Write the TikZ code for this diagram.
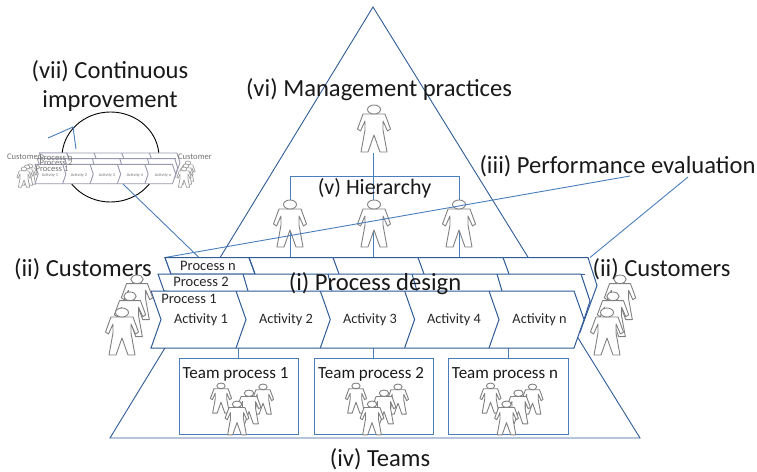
\documentclass[tikz,border=0pt]{standalone}
\usepackage{fontspec}
\setmainfont{Carlito}
\tikzset{
  x=1pt,y=-1pt,
  big/.style={inner sep=0pt,font=\fontsize{24.6}{29}\selectfont,text=black!90,align=center},
  hier/.style={inner sep=0pt,font=\fontsize{22}{26}\selectfont,text=black!90},
  team/.style={inner sep=0pt,font=\fontsize{17}{20}\selectfont,text=black!90},
  proc/.style={inner sep=0pt,font=\fontsize{14.5}{17}\selectfont,text=black!85},
  acty/.style={inner sep=0pt,font=\fontsize{14.3}{17}\selectfont,text=black!85},
  mini/.style={inner sep=0pt,font=\fontsize{8.6}{10}\selectfont,text=black!55},
  chev/.style={draw=chevc,fill=white,line width=1pt,line join=miter},
  conn/.style={draw=connc,line width=.9pt},
  fig/.style={draw=black!50,fill=white,line width=.9pt,line join=round},
  person/.pic={
    \path[fig] (-11,9) -- (-16.5,24) -- (-13.5,26) -- (-9,16) -- (-9,25) -- (-13,47) -- (-6,47) -- (0,30)
      -- (6,47) -- (13,47) -- (9,25) -- (9,16) -- (13.5,26) -- (16.5,24) -- (11,9) -- cycle;
    \path[fig] (0,4.5) ellipse (6.5 and 4.5);
  }
}
\definecolor{chevc}{HTML}{2F5B96}
\definecolor{connc}{HTML}{4A7DBB}
\newcommand{\chevronblock}{%
  % Process n layer
  \path[chev] (165,257.5) -- (588,257.5) -- (597,285.5) -- (580,332) -- (171,274) -- cycle;
  \path[chev] (165,257.5) -- (249,257.5) -- (255,274) -- (171,274) -- cycle;
  \foreach \a/\b in {249/255,333/339,418/424,503/509}{\draw[chev] (\a,257.5) -- (\b,274);}
  \draw[chev,fill=none] (171,274) -- (585,274);
  % Process 2 layer
  \path[chev] (158,274) -- (581,274) -- (590,301) -- (580,332) -- (164,291) -- cycle;
  \foreach \a/\b in {243/248,328/332,412/417,497/502}{\draw[chev] (\a,274) -- (\b,291);}
  % Process 1 layer
  \path[chev] (151,291) -- (574,291) -- (584,319.5) -- (574,348) -- (151,348) -- (161,319.5) -- cycle;
  \foreach \a in {236,320.3,404.6,489}{\draw[chev] (\a,291) -- (\a+10,319.5) -- (\a,348);}
}
\begin{document}
\begin{tikzpicture}
\useasboundingbox (0,0) rectangle (757,471);
% pyramid
\coordinate (apex) at (373,7);
\coordinate (baseL) at (110,438);
\coordinate (baseR) at (640,438);
\draw[draw=chevc,line width=.9pt,line join=miter] (apex) -- (baseL) -- (baseR) -- cycle;

% continuous improvement: ring, arrow and miniature
\draw[black,line width=.9pt] (110.5,157) ellipse (48.5 and 45);
\coordinate (ringA) at (48,138);
\coordinate (ringB) at (73,127);
\coordinate (ringC) at (76,149);
\draw[conn] (ringA) -- (ringB) -- (ringC);

\begin{scope}
\tikzset{fig/.style={draw=black!38,fill=white,line width=.7pt,line join=round}}
\foreach \px/\py in {30/164,27/165,24/167,188/161,186/164,184/167}{
  \pic[scale=.43] at (\px,\py) {person};
}
\end{scope}
\begin{scope}[shift={(35,153)},xscale=.325,yscale=.34,shift={(-151,-257.5)},
   chev/.style={draw=black!15!blue!15!gray!70,fill=white,line width=.9pt}]
  \chevronblock
\end{scope}
\foreach \n/\tx/\ax in {1/Activity 1/50,2/Activity 2/79,3/Activity 3/107,4/Activity 4/135,5/Activity n/163}{
  \node[inner sep=0pt,font=\fontsize{4.3}{5}\selectfont,text=black!55] (mact\n) at (\ax,175) {\tx};
}
\node[mini] (mcustL) at (24,157) {Customer};
\node[mini] (mcustR) at (195,157) {Customer};
\node[mini] (mprocN) at (56,157.5) {Process n};
\node[mini] (mproc2) at (56,163) {Process 2};
\node[mini] (mproc1) at (52,168.5) {Process 1};

% connectors running behind the main block
\coordinate (miniOut) at (123,184);
\coordinate (stackL) at (199,257.5);
\draw[conn] (miniOut) -- (stackL);

% hierarchy
\coordinate (bossFeet) at (373.5,153);
\coordinate (tieL) at (290,176);
\coordinate (tieM) at (373.5,176);
\coordinate (tieR) at (459,176);
\draw[conn,line width=1.3pt] (bossFeet) -- (tieM);
\draw[conn] (tieL) -- (tieR);
\foreach \c/\xx in {tieL/290,tieM/373.5,tieR/459}{
  \draw[conn] (\c) -- (\xx,257.5);
}
\pic at (374,105) {person};
\pic at (290,200) {person};
\pic at (374,200) {person};
\pic at (459,200) {person};

% team boxes and stubs
\node[draw=connc,line width=.9pt,minimum width=119.5pt,minimum height=76pt,inner sep=0pt] (team1) at (238.8,396) {};
\node[draw=connc,line width=.9pt,minimum width=119.5pt,minimum height=76pt,inner sep=0pt] (team2) at (373.8,396) {};
\node[draw=connc,line width=.9pt,minimum width=119.5pt,minimum height=76pt,inner sep=0pt] (teamN) at (508.3,396) {};
\draw[conn] (team1.north) -- (238.8,348);
\draw[conn] (team2.north) -- (373.8,348);
\draw[conn] (teamN.north) -- (508.3,348);

% performance evaluation lines
\coordinate (perfA) at (165,257.5);
\coordinate (perfB) at (630,176);
\coordinate (perfC) at (590,257.5);
\coordinate (perfD) at (688,177);
\draw[conn] (perfA) -- (perfB);
\draw[conn] (perfC) -- (perfD);

% main labels drawn under the customers
\node[big] (custL) at (83,269) {(ii) Customers};
\node[big] (custR) at (661.5,269) {(ii) Customers};

% main block
\chevronblock

% customers
\pic[scale=.95] at (137,275) {person};
\pic[scale=.95] at (130,292) {person};
\pic at (122,308) {person};
\pic[scale=.95] at (620,275) {person};
\pic[scale=.95] at (613,292) {person};
\pic at (607,308) {person};

% teams
\foreach \bx in {179,314,448.5}{
  \pic[scale=.64] at (\bx+84,384) {person};
  \pic[scale=.64] at (\bx+42,383) {person};
  \pic[scale=.72] at (\bx+70,390) {person};
  \pic[scale=.72] at (\bx+58,401) {person};
}

% text
\node[big] (vii) at (110,85.5) {(vii) Continuous\\improvement};
\node[big] (vi) at (379,90) {(vi) Management practices};
\node[big] (iii) at (617.5,166) {(iii) Performance evaluation};
\node[hier] (v) at (374.5,188) {(v) Hierarchy};
\node[big] (i) at (375,284) {(i) Process design};
\node[big] (iv) at (380,459) {(iv) Teams};
\node[proc] (pn) at (208,265.5) {Process n};
\node[proc] (p2) at (201,282) {Process 2};
\node[proc] (p1) at (189,299) {Process 1};
\foreach \n/\tx/\ax in {a/Activity 1/201,b/Activity 2/286,c/Activity 3/370,d/Activity 4/454,e/Activity n/539.5}{
  \node[acty] (act\n) at (\ax,320) {\tx};
}
\node[team] (t1) at (235.5,374) {Team process 1};
\node[team] (t2) at (371,374) {Team process 2};
\node[team] (tn) at (505,374) {Team process n};
\end{tikzpicture}
\end{document}
